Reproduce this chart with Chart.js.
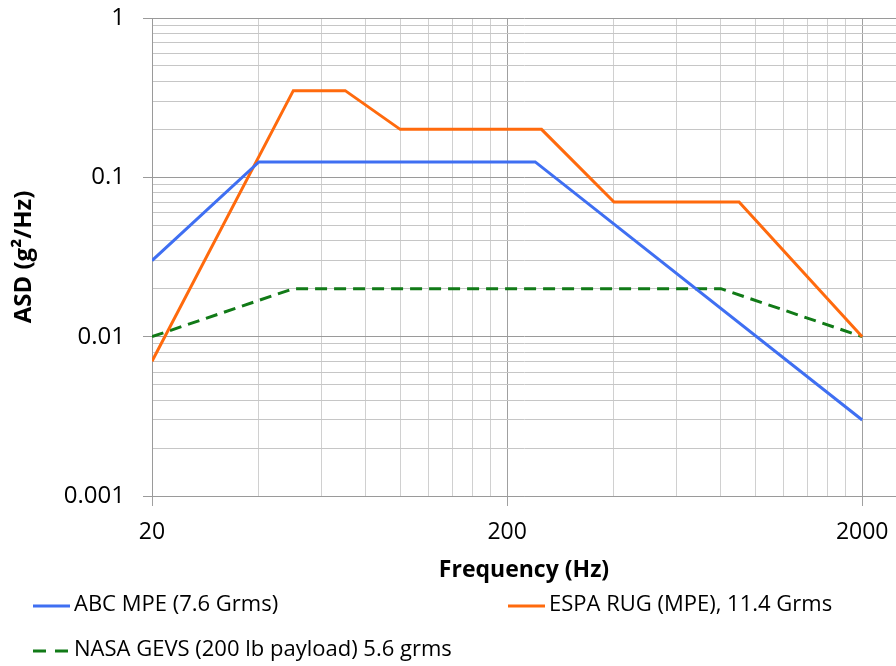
<!DOCTYPE html>
<html>
<head>
<meta charset="utf-8">
<script src="https://cdn.jsdelivr.net/npm/chart.js@4.4.1/dist/chart.umd.min.js"></script>
<style>
  html, body { margin: 0; padding: 0; background: #fff; }
  #wrap { width: 896px; height: 666px; position: relative; }
</style>
</head>
<body>
<div id="wrap"><canvas id="chart" width="896" height="666"></canvas></div>
<script>
// tick labels
const freqTickLabels = [20, 200, 2000];
const asdTickLabels = [0.001, 0.01, 0.1, 1];

// series
const abcFreq = [20, 40, 240, 2000];
const abcAsd = [0.03, 0.125, 0.125, 0.003];

const espaFreq = [20, 50, 70, 100, 250, 400, 900, 2000];
const espaAsd = [0.007, 0.35, 0.35, 0.2, 0.2, 0.07, 0.07, 0.01];

const gevsFreq = [20, 50, 800, 2000];
const gevsAsd = [0.01, 0.02, 0.02, 0.01];

const seriesLabels = [
  'ABC MPE (7.6 Grms)',
  'ESPA RUG (MPE), 11.4 Grms',
  'NASA GEVS (200 lb payload) 5.6 grms'
];

const FONT = '"Open Sans", "Noto Sans", sans-serif';

// grid lines at 1..9 x each decade start
function decadeGrid(starts, last) {
  const out = [];
  starts.forEach(b => { for (let k = 1; k <= 9; k++) out.push(+(b * k).toPrecision(6)); });
  out.push(last);
  return out;
}
const xGrid = decadeGrid([20, 200], 2000);
const yGrid = decadeGrid([0.001, 0.01, 0.1], 1);

const isMajor = (v, list) => list.some(m => Math.abs(v - m) / m < 1e-6);

const pts = (xs, ys) => xs.map((x, i) => ({ x: x, y: ys[i] }));

// legend drawn in two columns like the original
const legendPlugin = {
  id: 'cornerLegend',
  afterDraw(chart) {
    const ctx = chart.ctx;
    const spots = [[33, 606], [508, 606], [33, 651]];
    ctx.save();
    ctx.font = '22px ' + FONT;
    ctx.textBaseline = 'middle';
    ctx.fillStyle = '#000';
    chart.data.datasets.forEach((ds, i) => {
      const [x, y] = spots[i];
      ctx.strokeStyle = ds.borderColor;
      ctx.lineWidth = 3;
      ctx.setLineDash(ds.borderDash ? [13, 9] : []);
      ctx.beginPath();
      ctx.moveTo(x, y);
      ctx.lineTo(x + 37, y);
      ctx.stroke();
      ctx.setLineDash([]);
      ctx.fillText(ds.label, x + 41, y - 1);
    });
    ctx.restore();
  }
};

new Chart(document.getElementById('chart'), {
  type: 'line',
  data: {
    datasets: [
      { label: seriesLabels[0], data: pts(abcFreq, abcAsd), borderColor: '#3f6ff2', borderWidth: 3, pointRadius: 0, tension: 0 },
      { label: seriesLabels[1], data: pts(espaFreq, espaAsd), borderColor: '#ff6a0d', borderWidth: 3, pointRadius: 0, tension: 0 },
      { label: seriesLabels[2], data: pts(gevsFreq, gevsAsd), borderColor: '#117a17', borderWidth: 3, borderDash: [12, 7], pointRadius: 0, tension: 0 }
    ]
  },
  options: {
    responsive: false,
    animation: false,
    layout: { padding: { top: 18, right: 0, bottom: 80, left: 0 } },
    plugins: { legend: { display: false }, tooltip: { enabled: false } },
    scales: {
      x: {
        type: 'logarithmic',
        min: 20,
        max: 2490,
        afterBuildTicks: s => { s.ticks = xGrid.map(v => ({ value: v })); },
        afterFit: s => { s.height = 90; s.paddingLeft = 0; s.paddingRight = 0; },
        ticks: {
          autoSkip: false,
          maxRotation: 0,
          padding: 13,
          color: '#000',
          font: { family: FONT, size: 23 },
          callback: v => isMajor(v, freqTickLabels) ? String(v) : ''
        },
        grid: {
          tickLength: 10,
          color: c => isMajor(c.tick.value, freqTickLabels) ? '#a0a0a0' : '#d0d0d0',
          tickColor: c => isMajor(c.tick.value, freqTickLabels) ? '#a0a0a0' : 'rgba(0,0,0,0)'
        },
        border: { display: true, color: '#9a9a9a', width: 1 },
        title: {
          display: true,
          text: 'Frequency (Hz)',
          color: '#000',
          font: { family: FONT, size: 23, weight: 'bold' },
          padding: { top: 0, bottom: 2 }
        }
      },
      y: {
        type: 'logarithmic',
        min: 0.001,
        max: 1,
        afterBuildTicks: s => { s.ticks = yGrid.map(v => ({ value: v })); },
        afterFit: s => { s.width = 152; s.paddingTop = 0; s.paddingBottom = 0; },
        ticks: {
          autoSkip: false,
          padding: 18,
          color: '#000',
          font: { family: FONT, size: 24 },
          callback: v => isMajor(v, asdTickLabels) ? String(v) : ''
        },
        grid: {
          tickLength: 9,
          color: c => isMajor(c.tick.value, asdTickLabels) ? '#9a9a9a' : '#c6c6c6',
          tickColor: c => isMajor(c.tick.value, asdTickLabels) ? '#9a9a9a' : 'rgba(0,0,0,0)'
        },
        border: { display: true, color: '#9a9a9a', width: 1 },
        title: {
          display: true,
          text: 'ASD (g²/Hz)',
          color: '#000',
          font: { family: FONT, size: 24, weight: 'bold' },
          padding: { top: 10, bottom: 0 }
        }
      }
    }
  },
  plugins: [legendPlugin]
});
</script>
</body>
</html>
